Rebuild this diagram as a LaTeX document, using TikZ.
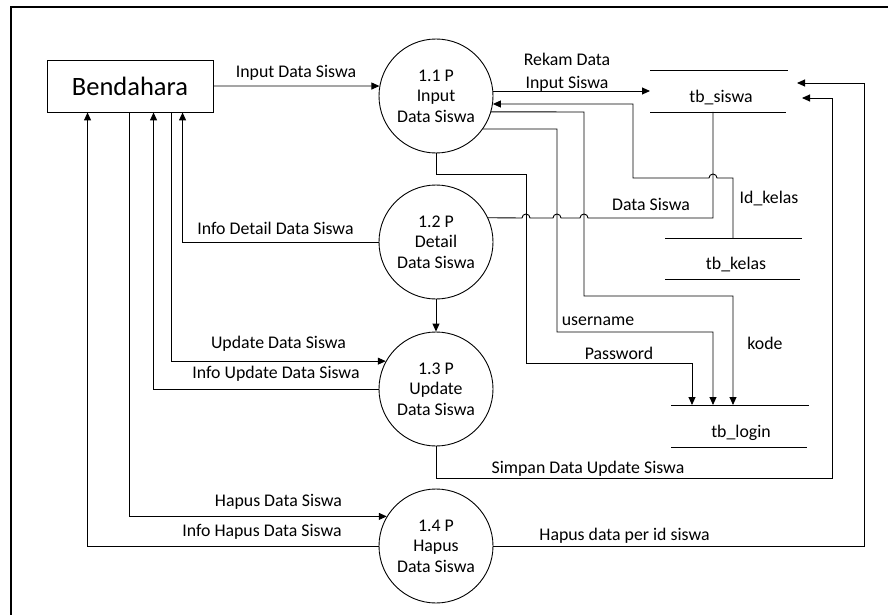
\documentclass[tikz,border=0pt]{standalone}
\usepackage{fontspec}
\setmainfont{Carlito}
\usetikzlibrary{arrows.meta,calc}
\begin{document}
\begin{tikzpicture}[x=1pt,y=-1pt,line width=0.9pt,
 arr/.style={-{Triangle[length=8pt,width=7pt]}},
 proc/.style={circle,draw,minimum size=114pt,inner sep=0pt,align=center,font=\fontsize{17.8}{20.5}\selectfont},
 ent/.style={rectangle,draw,minimum width=166pt,minimum height=52pt,inner sep=0pt,font=\fontsize{26.5}{30}\selectfont},
 lbl/.style={inner sep=0pt,text height=11.5pt,text depth=0pt,font=\fontsize{17.8}{20.5}\selectfont},
 ml/.style={inner sep=0pt,align=center,font=\fontsize{17.8}{23}\selectfont},
]
\useasboundingbox (0,0) rectangle (888,615);
% frame (top and left edges visible)
\coordinate (fa) at (11,615);
\coordinate (fb) at (11,7);
\coordinate (fc) at (888,7);
\draw[line width=2.2pt] (fa) -- (fb) -- (fc);

% entity
\node[ent] (b) at (130,86) {Bendahara};

% processes
\node[proc] (p1) at (436,96) {1.1 P\\Input\\Data Siswa};
\node[proc] (p2) at (436,242) {1.2 P\\Detail\\Data Siswa};
\node[proc] (p3) at (436,389) {1.3 P\\Update\\Data Siswa};
\node[proc] (p4) at (436,546) {1.4 P\\Hapus\\Data Siswa};

% data stores
\coordinate (s1a) at (650,70);  \coordinate (s1b) at (788,70);
\coordinate (s1c) at (650,112); \coordinate (s1d) at (786,112);
\draw (s1a) -- (s1b); \draw (s1c) -- (s1d);
\node[lbl] (s1) at (721,96.5) {tb\_siswa};

\coordinate (s2a) at (665,238); \coordinate (s2b) at (802,238);
\coordinate (s2c) at (665,279); \coordinate (s2d) at (800,279);
\draw (s2a) -- (s2b); \draw (s2c) -- (s2d);
\node[lbl] (s2) at (736,264) {tb\_kelas};

\coordinate (s3a) at (671,405); \coordinate (s3b) at (809,405);
\coordinate (s3c) at (671,447); \coordinate (s3d) at (807,447);
\draw (s3a) -- (s3b); \draw (s3c) -- (s3d);
\node[lbl] (s3) at (741,431.5) {tb\_login};

% connection points on stores
\coordinate (s1in1) at (802,98);
\coordinate (s1in2) at (797,83);
\coordinate (s1out) at (713,112);
\coordinate (s2out) at (733,238);
\coordinate (s3in1) at (692,405);
\coordinate (s3in2) at (713,405);
\coordinate (s3in3) at (733,405);

% Bendahara -> 1.1
\draw[arr] (b.east) -- (p1.170);
\node[lbl] (l1) at (296,71.5) {Input Data Siswa};

% 1.1 -> tb_siswa
\draw[arr] (p1.5) -- (p1.5 -| s1a);
\node[ml] (l2) at (567,72) {Rekam Data\\Input Siswa};

% tb_kelas -> 1.1 (Id_kelas)
\draw[arr] (s2out) -- (733,178) -- (717,178) arc[start angle=0,end angle=180,radius=4pt] -- (633,178) -- (633,104) -- (p1.-8);
\node[lbl] (l3) at (769,198) {Id\_kelas};

% tb_siswa -- 1.2 (Data Siswa)
\draw (p2.25) -- (522,218) arc[start angle=180,end angle=0,radius=4pt]
  -- (553,218) arc[start angle=180,end angle=0,radius=4pt]
  -- (580,218) arc[start angle=180,end angle=0,radius=4pt]
  -- (713,218) -- (s1out);
\node[lbl] (l4) at (651,205) {Data Siswa};

% 1.1 -> tb_login
\draw[arr] (p1.-16) -- (584,112) -- (584,296) -- (733,296) -- (s3in3);
\node[lbl] (l5) at (765,344) {kode};
\draw[arr] (p1.-35) -- (557,129) -- (557,332) -- (713,332) -- (s3in2);
\node[lbl] (l6) at (598,320) {username};
\draw[arr] (p1.south) -- (436,174) -- (526,174) -- (526,363) -- (692,363) -- (s3in1);
\node[lbl] (l7) at (619,354) {Password};

% 1.2 -> Bendahara
\draw[arr] (p2.west) -| ($(b.south west)+(136,0)$);
\node[lbl] (l8) at (275.5,228.5) {Info Detail Data Siswa};

% 1.2 -> 1.3
\draw[arr] (p2.south) -- (p3.north);

% Bendahara <-> 1.3
\draw[arr] ($(b.south west)+(125,0)$) |- (p3.151);
\node[lbl] (l9) at (278.5,343) {Update Data Siswa};
\draw[arr] (p3.west) -| ($(b.south west)+(107,0)$);
\node[lbl] (l10) at (276,373) {Info Update Data Siswa};

% Bendahara <-> 1.4
\draw[arr] ($(b.south west)+(83,0)$) |- (p4.149);
\node[lbl] (l11) at (278.5,500.5) {Hapus Data Siswa};
\draw[arr] (p4.west) -| ($(b.south west)+(41,0)$);
\node[lbl] (l12) at (262,531) {Info Hapus Data Siswa};

% 1.3 -> tb_siswa
\draw[arr] (p3.south) -- (436,478) -- (832,478) -- (832,98) -- (s1in1);
\node[lbl] (l13) at (588,468) {Simpan Data Update Siswa};

% 1.4 -> tb_siswa
\draw[arr] (p4.east) -- (864,546) -- (864,83) -- (s1in2);
\node[lbl] (l14) at (624.5,535) {Hapus data per id siswa};
\end{tikzpicture}
\end{document}
